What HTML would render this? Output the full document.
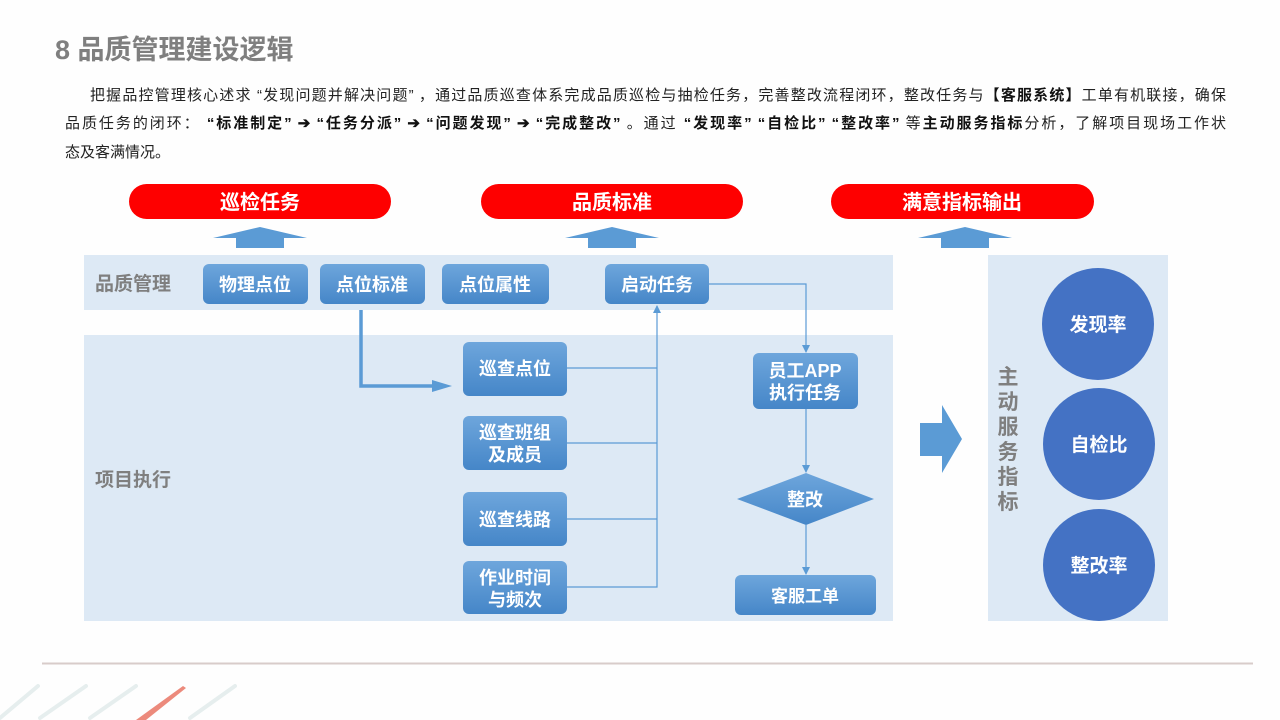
<!DOCTYPE html>
<html><head><meta charset="utf-8"><style>
html,body{margin:0;padding:0;background:#fefefe;}
body{width:1280px;height:720px;position:relative;overflow:hidden;font-family:"Liberation Sans","Noto Sans CJK SC",sans-serif;}
.title{position:absolute;left:55px;top:28px;font-size:27px;font-weight:bold;color:#7f7f7f;}
.l{position:absolute;left:65px;width:1161px;font-size:15px;line-height:20px;color:#222;text-align:justify;text-align-last:justify;white-space:nowrap;}
.l.last{text-align-last:left;}
.l b{color:#111;}
svg{position:absolute;left:0;top:0;}
</style></head><body>
<div class="title">8 品质管理建设逻辑</div>
<div class="l" style="top:86px;padding-left:25px;width:1136px;white-space:normal">把握品控管理核心述求 “发现问题并解决问题” ，通过品质巡查体系完成品质巡检与抽检任务，完善整改流程闭环，整改任务与<b>【客服系统】</b>工单有机联接，确保</div>
<div class="l" style="top:114px;white-space:normal">品质任务的闭环： <b>“标准制定” ➔ “任务分派” ➔ “问题发现” ➔ “完成整改”</b> 。通过 <b>“发现率” “自检比” “整改率”</b> 等<b>主动服务指标</b>分析，了解项目现场工作状</div>
<div class="l last" style="top:143px;">态及客满情况。</div>
<svg width="1280" height="720" viewBox="0 0 1280 720" font-family="Liberation Sans, Noto Sans CJK SC, sans-serif">
<defs>
<linearGradient id="g" x1="0" y1="0" x2="0" y2="1"><stop offset="0" stop-color="#6ea6dc"/><stop offset="1" stop-color="#4586c8"/></linearGradient>
<marker id="a" markerWidth="8" markerHeight="8" refX="7" refY="4" orient="auto" markerUnits="userSpaceOnUse"><path d="M0,0 L8,4 L0,8Z" fill="#5b9bd5"/></marker>
</defs>
<rect x="129" y="184" width="262" height="35" rx="17.5" fill="#fe0000"/>
<rect x="481" y="184" width="262" height="35" rx="17.5" fill="#fe0000"/>
<rect x="831" y="184" width="263" height="35" rx="17.5" fill="#fe0000"/>
<g fill="#fff" font-size="20" font-weight="bold" text-anchor="middle">
<text x="260" y="209">巡检任务</text><text x="612" y="209">品质标准</text><text x="962" y="209">满意指标输出</text></g>
<g fill="#5b9bd5">
<path d="M213,238 L260,227 L307,238 L284,238 L284,248 L236,248 L236,238Z"/>
<path d="M565,238 L612,227 L659,238 L636,238 L636,248 L588,248 L588,238Z"/>
<path d="M918,238 L965,227 L1012,238 L989,238 L989,248 L941,248 L941,238Z"/>
</g>
<rect x="84" y="255" width="809" height="55" fill="#dde9f5"/>
<rect x="84" y="335" width="809" height="286" fill="#dde9f5"/>
<rect x="988" y="255" width="180" height="366" fill="#dde9f5"/>
<g fill="#7f7f7f" font-size="19" font-weight="bold">
<text x="95" y="290">品质管理</text><text x="95" y="486">项目执行</text></g>
<g fill="#7f7f7f" font-size="21" font-weight="bold" text-anchor="middle">
<text x="1008" y="384">主</text><text x="1008" y="409">动</text><text x="1008" y="434">服</text><text x="1008" y="459">务</text><text x="1008" y="484">指</text><text x="1008" y="509">标</text></g>
<g stroke="#5b9bd5" stroke-width="1.2" fill="none">
<path d="M567,368 H657 M567,443 H657 M567,519 H657 M567,587 H657 V306" marker-end="url(#a)"/>
<path d="M709,284 H806 V352" marker-end="url(#a)"/>
<path d="M806,409 V472" marker-end="url(#a)"/>
<path d="M806,525 V574" marker-end="url(#a)"/>
</g>
<path d="M361,310 V386 H438" stroke="#5b9bd5" stroke-width="3.5" fill="none"/>
<path d="M432,380 L452,386 L432,392Z" fill="#5b9bd5"/>
<path d="M920,423 H942 V405 L962,439 L942,473 V456 H920Z" fill="#5b9bd5"/>
<g fill="url(#g)">
<rect x="203" y="264" width="105" height="40" rx="6"/>
<rect x="320" y="264" width="105" height="40" rx="6"/>
<rect x="442" y="264" width="107" height="40" rx="6"/>
<rect x="605" y="264" width="104" height="40" rx="6"/>
<rect x="463" y="342" width="104" height="54" rx="6"/>
<rect x="463" y="416" width="104" height="54" rx="6"/>
<rect x="463" y="492" width="104" height="54" rx="6"/>
<rect x="463" y="561" width="104" height="53" rx="6"/>
<rect x="753" y="353" width="105" height="56" rx="6"/>
<rect x="735" y="575" width="141" height="40" rx="6"/>
<path d="M737,499 L806,473 L874,499 L806,525Z"/>
</g>
<g fill="#fff" font-size="18" font-weight="bold" text-anchor="middle">
<text x="255" y="291">物理点位</text><text x="372" y="291">点位标准</text><text x="495" y="291">点位属性</text><text x="657" y="291">启动任务</text>
<text x="515" y="375">巡查点位</text>
<text x="515" y="439">巡查班组</text><text x="515" y="461">及成员</text>
<text x="515" y="526">巡查线路</text>
<text x="515" y="584">作业时间</text><text x="515" y="606">与频次</text>
<text x="805" y="377">员工APP</text><text x="805" y="399">执行任务</text>
<text x="805" y="506">整改</text>
<text x="805" y="602" font-size="17">客服工单</text>
</g>
<g fill="#4472c4"><circle cx="1098" cy="324" r="56"/><circle cx="1099" cy="444" r="56"/><circle cx="1099" cy="565" r="56"/></g>
<g fill="#fff" font-size="19" font-weight="bold" text-anchor="middle">
<text x="1098" y="331">发现率</text><text x="1099" y="451">自检比</text><text x="1099" y="572">整改率</text></g>
<line x1="42" y1="663.5" x2="1253" y2="663.5" stroke="#d8ccca" stroke-width="2"/>
<g stroke="#e6eeee" stroke-width="4" stroke-linecap="round">
<line x1="0" y1="718" x2="38" y2="686"/><line x1="40" y1="718" x2="86" y2="686"/><line x1="90" y1="718" x2="136" y2="686"/><line x1="190" y1="718" x2="235" y2="686"/></g>
<path d="M136,720 L183,686 L186,688 L146,720Z" fill="#ec8a7c"/>
</svg>
</body></html>
